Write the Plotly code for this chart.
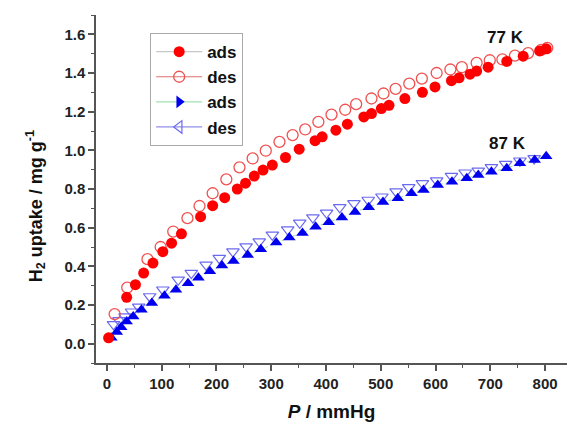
import plotly.graph_objects as go

# 77 K adsorption (filled red circles)
p77_ads = [3, 36, 52, 67, 84, 102, 118, 136, 171, 193, 215, 238, 253, 269, 285, 302, 326, 351, 380, 393,
           418, 439, 469, 483, 501, 515, 544, 576, 599, 629, 643, 663, 675, 696, 730, 760, 790, 802]
u77_ads = [0.03, 0.24, 0.305, 0.365, 0.417, 0.476, 0.52, 0.568, 0.657, 0.714, 0.755, 0.80, 0.83, 0.867, 0.898,
           0.924, 0.963, 1.006, 1.05, 1.07, 1.104, 1.135, 1.173, 1.19, 1.216, 1.233, 1.268, 1.30, 1.328, 1.36,
           1.375, 1.394, 1.41, 1.43, 1.46, 1.487, 1.514, 1.525]
# 77 K desorption (open red circles)
p77_des = [14, 37, 74, 98, 121, 147, 169, 193, 218, 242, 266, 290, 315, 339, 362, 386, 410, 435, 455, 483,
           505, 527, 552, 575, 602, 627, 648, 675, 699, 722, 745, 769, 793, 804]
u77_des = [0.153, 0.29, 0.437, 0.50, 0.58, 0.649, 0.712, 0.778, 0.85, 0.912, 0.958, 0.998, 1.044, 1.079,
           1.108, 1.147, 1.185, 1.21, 1.239, 1.268, 1.294, 1.318, 1.345, 1.371, 1.40, 1.418, 1.43, 1.452,
           1.466, 1.47, 1.49, 1.503, 1.52, 1.53]
# 87 K adsorption (filled blue triangles)
p87_ads = [8, 18, 26, 36, 48, 63, 82, 105, 126, 148, 167, 188, 210, 231, 257, 281, 309, 333, 357, 381, 405,
           429, 453, 478, 504, 531, 556, 578, 604, 630, 657, 678, 702, 730, 754, 781, 802]
u87_ads = [0.03, 0.06, 0.085, 0.115, 0.14, 0.175, 0.21, 0.248, 0.279, 0.313, 0.341, 0.375, 0.404, 0.427,
           0.459, 0.488, 0.523, 0.549, 0.573, 0.605, 0.628, 0.652, 0.681, 0.705, 0.733, 0.752, 0.778, 0.795,
           0.821, 0.838, 0.855, 0.872, 0.889, 0.907, 0.933, 0.95, 0.97]
# 87 K desorption (open blue triangles)
p87_des = [12, 22, 33, 45, 58, 78, 102, 130, 154, 181, 205, 230, 254, 278, 302, 330, 352, 376, 401, 425,
           451, 477, 502, 528, 551, 576, 602, 629, 654, 678, 702, 728, 754, 780]
u87_des = [0.10, 0.12, 0.14, 0.165, 0.19, 0.244, 0.279, 0.33, 0.365, 0.408, 0.442, 0.476, 0.502, 0.528,
           0.563, 0.59, 0.625, 0.652, 0.677, 0.705, 0.726, 0.743, 0.76, 0.786, 0.808, 0.829, 0.843, 0.867,
           0.884, 0.894, 0.912, 0.929, 0.946, 0.958]

x_ticks = [0, 100, 200, 300, 400, 500, 600, 700, 800]
y_ticks = [0.0, 0.2, 0.4, 0.6, 0.8, 1.0, 1.2, 1.4, 1.6]
legend_names = ["ads", "des", "ads", "des"]
labels = ["77 K", "87 K"]
label_x = [727, 731]
label_y = [1.585, 1.037]

RED = "#ff0000"
BLUE = "#0000ee"
FONT = "Liberation Sans, Arial, sans-serif"

fig = go.Figure()

# data traces (not in legend)
fig.add_trace(go.Scatter(x=p87_des, y=u87_des, mode="markers", showlegend=False,
                         marker=dict(symbol="triangle-down-open", size=11, color="#6a6af0", line=dict(width=1.2))))
fig.add_trace(go.Scatter(x=p87_ads, y=u87_ads, mode="lines+markers", showlegend=False,
                         line=dict(color="#9fe0a0", width=1, dash="dot"),
                         marker=dict(symbol="triangle-up", size=11, color=BLUE, line=dict(width=0))))
fig.add_trace(go.Scatter(x=p77_des, y=u77_des, mode="markers", showlegend=False,
                         marker=dict(symbol="circle-open", size=11, color="#f05050", line=dict(width=1.3))))
fig.add_trace(go.Scatter(x=p77_ads, y=u77_ads, mode="markers", showlegend=False,
                         marker=dict(symbol="circle", size=11, color=RED, line=dict(width=0))))

# legend entries
leg_styles = [
    dict(line=dict(color="#c8c8c8", width=1.2), marker=dict(symbol="circle", size=11, color=RED)),
    dict(line=dict(color="#e07070", width=1.2), marker=dict(symbol="circle-open", size=11, color="#f05050", line=dict(width=1.3))),
    dict(line=dict(color="#a0e0b0", width=1.2), marker=dict(symbol="triangle-right", size=11, color=BLUE)),
    dict(line=dict(color="#9090e8", width=1.2), marker=dict(symbol="triangle-left-open", size=11, color="#6a6af0", line=dict(width=1.2))),
]
for name, st in zip(legend_names, leg_styles):
    fig.add_trace(go.Scatter(x=[None], y=[None], mode="lines+markers", name=f"<b>{name}</b>", **st))

for t, lx, ly in zip(labels, label_x, label_y):
    fig.add_annotation(x=lx, y=ly, text=f"<b>{t}</b>", showarrow=False,
                       font=dict(family=FONT, size=17, color="#111"))

# y-axis title as annotation (positioned like the reference)
fig.add_annotation(xref="paper", yref="paper", x=-0.16, y=0.451, textangle=-90,
                   text="<b>H<sub>2</sub> uptake / mg g<sup>-1</sup></b>", showarrow=False,
                   font=dict(family=FONT, size=18, color="#111"))

axis_common = dict(showline=True, linecolor="#555", linewidth=1.5, ticks="outside", ticklen=6,
                   tickwidth=1.5, tickcolor="#555", showgrid=False, zeroline=False,
                   tickfont=dict(family=FONT, size=15, color="#222"))

fig.update_layout(
    width=567, height=424,
    margin=dict(l=96, r=0, t=15, b=61),
    paper_bgcolor="white", plot_bgcolor="white",
    font=dict(family=FONT),
    legend=dict(x=0.115, y=0.948, xanchor="left", yanchor="top",
                bordercolor="#aaa", borderwidth=1, bgcolor="white",
                font=dict(family=FONT, size=17, color="#111"), itemwidth=46),
    xaxis=dict(range=[-20, 840], tickvals=x_ticks, ticktext=[f"<b>{v}</b>" for v in x_ticks],
               minor=dict(ticks="outside", ticklen=3, dtick=50, tickcolor="#555", tickwidth=1.2),
               title=dict(text="<b><i>P</i> / mmHg</b>", font=dict(family=FONT, size=19, color="#111"), standoff=14),
               **axis_common),
    yaxis=dict(range=[-0.1, 1.7], tickvals=y_ticks, ticktext=[f"<b>{v:.1f}</b>" for v in y_ticks],
               minor=dict(ticks="outside", ticklen=3, dtick=0.1, tickcolor="#555", tickwidth=1.2),
               **axis_common),
)

fig.write_html("out.html")
